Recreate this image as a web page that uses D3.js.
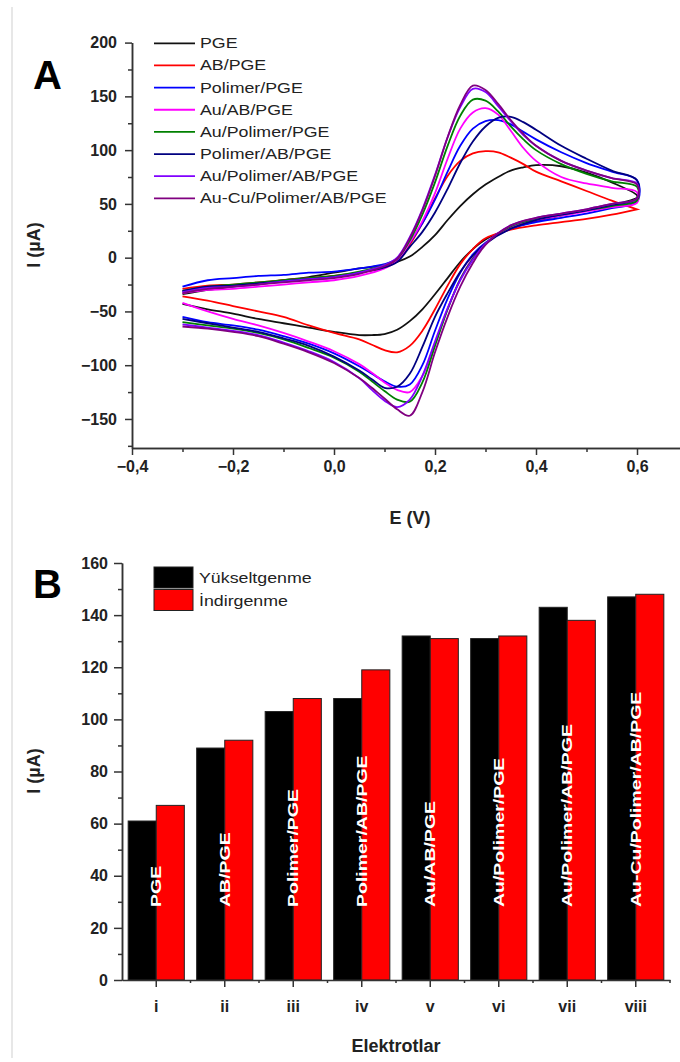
<!DOCTYPE html>
<meta charset="utf-8">
<style>
body { margin: 0; background: #fff; }
text { font-family: "Liberation Sans", Arial, sans-serif; }
.axis path, .axis line { stroke: #333; stroke-width: 1.5; }
.axis text { font-size: 16px; font-weight: bold; fill: #222; }
.cv { fill: none; stroke-width: 1.8; }
.legend text { font-size: 14px; fill: #222; }
</style>
<body>
<script src="https://cdnjs.cloudflare.com/ajax/libs/d3/7.8.5/d3.min.js"></script>
<script>

// ---- panel A data: CV curves (forward scan, then reverse scan) ----
var fwdE = [-0.3,-0.25,-0.2,-0.15,-0.1,-0.05,0,0.05,0.1,0.125,0.15,0.175,0.2,0.225,0.25,0.275,0.3,0.325,0.35,0.375,0.4,0.45,0.5,0.55,0.6];
var revE = [0.6,0.55,0.5,0.45,0.4,0.35,0.3,0.275,0.25,0.225,0.2,0.175,0.15,0.125,0.1,0.075,0.05,0,-0.05,-0.1,-0.15,-0.2,-0.25,-0.3];

var pgeFwd = [-34,-30,-27,-24,-21,-18,-14,-10,-7,-4,1,10,21,35,48,59,68,75,81,84,86,85,79,70,58];
var pgeRev = [56,49,44,39,34,27,17,8,-4,-19,-34,-48,-59,-67,-71,-72,-72,-69,-65,-61,-57,-52,-48,-43];

var abFwd = [-29,-26,-25,-23,-21,-19,-17,-14,-9,-3,12,32,55,76,90,97,99,98,93,87,80,71,62,53,45];
var abRev = [45,40,36,33,30,26,18,8,-6,-26,-48,-68,-82,-88,-86,-81,-76,-70,-63,-55,-50,-45,-40,-36];

var polFwd = [-27,-21,-19,-17,-16,-14,-13,-10,-6,-1,14,32,54,80,104,120,127,128,124,117,110,98,88,80,72];
var polRev = [52,46,41,37,33,27,14,3,-14,-38,-68,-100,-118,-120,-115,-108,-101,-89,-80,-73,-67,-63,-60,-55];

var auAbFwd = [-33,-30,-29,-27,-25,-23,-21,-17,-10,-3,14,34,60,92,120,135,139,133,118,102,90,75,69,65,61];
var auAbRev = [51,47,43,39,35,28,13,0,-20,-48,-80,-110,-125,-123,-116,-107,-99,-87,-78,-70,-63,-57,-50,-42];

var auPolFwd = [-31,-27,-25,-23,-21,-19,-17,-13,-7,-1,16,40,70,104,132,147,146,136,122,110,100,87,78,71,66];
var auPolRev = [53,48,44,40,36,29,13,-1,-20,-48,-82,-116,-134,-132,-124,-115,-106,-93,-84,-76,-70,-66,-63,-60];

var polAbFwd = [-31,-27,-26,-24,-22,-20,-18,-14,-9,-4,10,24,42,64,88,108,122,130,131,126,119,104,92,81,72];
var polAbRev = [55,49,44,40,35,27,13,2,-13,-33,-55,-83,-108,-120,-121,-113,-105,-92,-82,-75,-69,-65,-61,-57];

var auPolAbFwd = [-32,-28,-27,-25,-22,-20,-18,-14,-7,0,19,45,77,112,140,157,154,141,127,114,104,90,81,74,69];
var auPolAbRev = [55,50,45,41,37,30,13,-2,-21,-47,-78,-110,-132,-139,-133,-123,-112,-97,-87,-79,-72,-68,-65,-62];

var auCuFwd = [-33,-29,-27,-25,-23,-21,-19,-15,-8,-1,18,44,76,112,142,160,156,143,128,115,104,90,81,74,68];
var auCuRev = [55,50,45,41,37,30,12,-5,-27,-55,-88,-125,-147,-141,-131,-121,-112,-98,-88,-80,-73,-69,-66,-64];

var cvNames = ["PGE","AB/PGE","Polimer/PGE","Au/AB/PGE","Au/Polimer/PGE","Polimer/AB/PGE","Au/Polimer/AB/PGE","Au-Cu/Polimer/AB/PGE"];
var cvColors = ["#111111","#ff0000","#0000ff","#ff00ff","#008000","#000080","#8000ff","#800080"];
var cvFwd = [pgeFwd, abFwd, polFwd, auAbFwd, auPolFwd, polAbFwd, auPolAbFwd, auCuFwd];
var cvRev = [pgeRev, abRev, polRev, auAbRev, auPolRev, polAbRev, auPolAbRev, auCuRev];

var xTicksA = [-0.4,-0.2,0,0.2,0.4,0.6];
var xMinorA = [-0.3,-0.1,0.1,0.3,0.5];
var yTicksA = [-150,-100,-50,0,50,100,150,200];
var yMinorA = [-175,-125,-75,-25,25,75,125,175];

// ---- panel B data: peak currents ----
var categories = ["i","ii","iii","iv","v","vi","vii","viii"];
var electrodes = ["PGE","AB/PGE","Polimer/PGE","Polimer/AB/PGE","Au/AB/PGE","Au/Polimer/PGE","Au/Polimer/AB/PGE","Au-Cu/Polimer/AB/PGE"];
var oxidation = [61,89,103,108,132,131,143,147];
var reduction = [67,92,108,119,131,132,138,148];
var seriesB = ["Yükseltgenme","İndirgenme"];
var colorsB = ["#000000","#ff0000"];
var yTicksB = [0,20,40,60,80,100,120,140,160];
var yMinorB = [10,30,50,70,90,110,130,150];

var svg = d3.select("body").append("svg")
    .attr("width", 680)
    .attr("height", 1062);

// thin frame line on the left
svg.append("line")
    .attr("x1", 12).attr("x2", 12).attr("y1", 7).attr("y2", 1058)
    .attr("stroke", "#cfcfcf").attr("stroke-width", 1);

var comma = function(d) { return d3.format(".1f")(d).replace(".", ","); };

// ================= Panel A =================
var xA = d3.scaleLinear().domain([-0.4, 0.7]).range([132, 687.5]);
var yA = d3.scaleLinear().domain([-177, 200]).range([448, 42.6]);

svg.append("g").attr("class", "axis")
    .attr("transform", "translate(0,448)")
    .call(d3.axisBottom(xA).tickValues(xMinorA).tickSize(4).tickSizeOuter(0).tickFormat(""));
svg.append("g").attr("class", "axis")
    .attr("transform", "translate(0,448)")
    .call(d3.axisBottom(xA).tickValues(xTicksA).tickSize(7).tickSizeOuter(0).tickPadding(6).tickFormat(comma));

svg.append("g").attr("class", "axis")
    .attr("transform", "translate(132,0)")
    .call(d3.axisLeft(yA).tickValues(yMinorA).tickSize(4).tickSizeOuter(0).tickFormat(""));
svg.append("g").attr("class", "axis")
    .attr("transform", "translate(132,0)")
    .call(d3.axisLeft(yA).tickValues(yTicksA).tickSize(7).tickSizeOuter(0).tickPadding(8));

var cvLine = d3.line()
    .x(function(d) { return xA(d[0]); })
    .y(function(d) { return yA(d[1]); })
    .curve(d3.curveCatmullRom.alpha(0.5));

cvNames.forEach(function(name, k) {
    var pts = fwdE.map(function(e, i) { return [e, cvFwd[k][i]]; })
        .concat(revE.map(function(e, i) { return [e, cvRev[k][i]]; }));
    svg.append("path")
        .datum(pts)
        .attr("class", "cv")
        .attr("stroke", cvColors[k])
        .attr("d", cvLine);
});

// legend A (text is drawn a bit wide, as in the original figure)
var legA = svg.append("g").attr("class", "legend");
cvNames.forEach(function(name, k) {
    var ly = 43.3 + k * 22.15;
    legA.append("line")
        .attr("x1", 154).attr("x2", 195).attr("y1", ly).attr("y2", ly)
        .attr("stroke", cvColors[k]).attr("stroke-width", 1.8);
    legA.append("text")
        .attr("transform", "translate(200," + (ly + 5) + ") scale(1.27,1)")
        .text(name);
});

svg.append("text")
    .attr("x", 33).attr("y", 89)
    .style("font-size", "40px").style("font-weight", "bold")
    .text("A");

svg.append("text")
    .attr("transform", "translate(40,245) rotate(-90)")
    .attr("text-anchor", "middle")
    .style("font-size", "18px").style("font-weight", "bold").style("fill", "#222")
    .text("I (µA)");

svg.append("text")
    .attr("x", 410).attr("y", 524)
    .attr("text-anchor", "middle")
    .style("font-size", "18px").style("font-weight", "bold").style("fill", "#222")
    .text("E (V)");

// ================= Panel B =================
var x0 = d3.scaleBand().domain(categories).range([122, 670]).paddingInner(0.18).paddingOuter(0.09);
var x1 = d3.scaleBand().domain(seriesB).range([0, x0.bandwidth()]);
var yB = d3.scaleLinear().domain([0, 160]).range([980, 563]);

var barData = categories.map(function(c, i) {
    return { cat: c, name: electrodes[i], values: [oxidation[i], reduction[i]] };
});

var groups = svg.selectAll(".grp")
    .data(barData)
    .enter().append("g")
    .attr("class", "grp")
    .attr("transform", function(d) { return "translate(" + x0(d.cat) + ",0)"; });

groups.selectAll("rect")
    .data(function(d) { return d.values.map(function(v, j) { return { s: seriesB[j], v: v, j: j }; }); })
    .enter().append("rect")
    .attr("x", function(d) { return x1(d.s); })
    .attr("y", function(d) { return yB(d.v); })
    .attr("width", x1.bandwidth())
    .attr("height", function(d) { return yB(0) - yB(d.v); })
    .attr("fill", function(d) { return colorsB[d.j]; })
    .attr("stroke", "#222")
    .attr("stroke-width", 1);

groups.append("text")
    .attr("transform", "translate(" + (x0.bandwidth() / 2 + 5) + "," + 907 + ") rotate(-90) scale(1.3,1)")
    .style("font-size", "15px").style("font-weight", "bold").style("fill", "#fff")
    .text(function(d) { return d.name; });

// axes B
var minorB = categories.map(function(c) { return x0(c) + x0.bandwidth() / 2 + x0.step() / 2; });
svg.append("g").attr("class", "axis")
    .attr("transform", "translate(0,980)")
    .call(d3.axisBottom(x0).tickSize(7).tickSizeOuter(0).tickPadding(14));
svg.append("g").attr("class", "axis")
    .selectAll("line").data(minorB).enter().append("line")
    .attr("x1", function(d) { return d; }).attr("x2", function(d) { return d; })
    .attr("y1", 980).attr("y2", 983);

svg.append("g").attr("class", "axis")
    .attr("transform", "translate(122,0)")
    .call(d3.axisLeft(yB).tickValues(yMinorB).tickSize(4).tickSizeOuter(0).tickFormat(""));
svg.append("g").attr("class", "axis")
    .attr("transform", "translate(122,0)")
    .call(d3.axisLeft(yB).tickValues(yTicksB).tickSize(8).tickSizeOuter(0).tickPadding(6));

// legend B
var legB = svg.append("g").attr("class", "legend");
seriesB.forEach(function(s, j) {
    legB.append("rect")
        .attr("x", 154).attr("y", 567 + j * 22.5)
        .attr("width", 39).attr("height", 21)
        .attr("fill", colorsB[j]).attr("stroke", "#222").attr("stroke-width", 1);
    legB.append("text")
        .attr("transform", "translate(199," + (583 + j * 22.5) + ") scale(1.27,1)")
        .text(s);
});

svg.append("text")
    .attr("x", 33).attr("y", 598)
    .style("font-size", "40px").style("font-weight", "bold")
    .text("B");

svg.append("text")
    .attr("transform", "translate(40,771) rotate(-90)")
    .attr("text-anchor", "middle")
    .style("font-size", "18px").style("font-weight", "bold").style("fill", "#222")
    .text("I (µA)");

svg.append("text")
    .attr("x", 396).attr("y", 1052)
    .attr("text-anchor", "middle")
    .style("font-size", "18px").style("font-weight", "bold").style("fill", "#222")
    .text("Elektrotlar");

</script>
</body>
